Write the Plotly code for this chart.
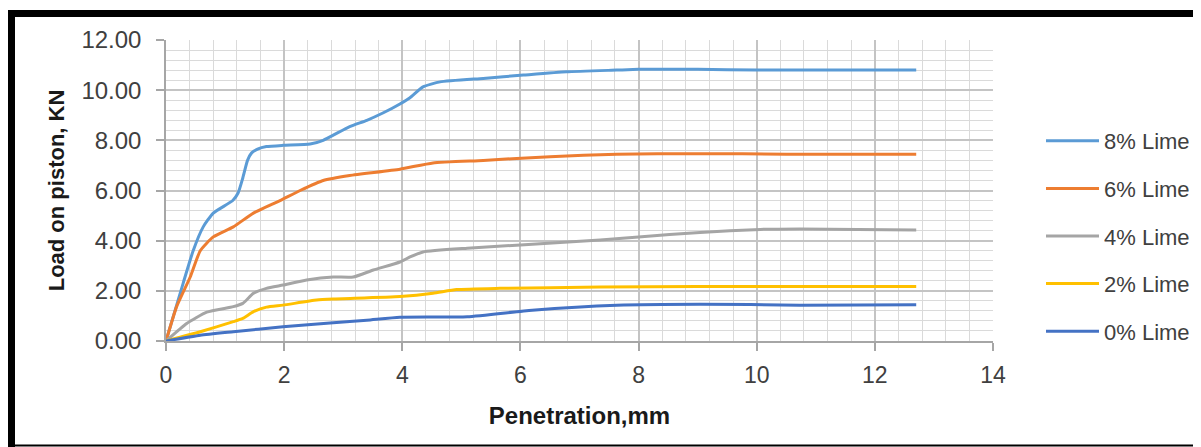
import plotly.graph_objects as go

# ---- data ----
x_8 = [0, 0.29, 0.46, 0.63, 0.8, 1.13, 1.22, 1.3, 1.38, 1.45, 1.55, 1.7, 1.98, 2.44, 2.66, 3.11, 3.4, 3.68,
       3.96, 4.13, 4.35, 4.64, 5.37, 6.05, 6.78, 7.63, 8.0, 9.0, 10.0, 11.0, 12.7]
y_8 = [0, 2.3, 3.6, 4.55, 5.1, 5.6, 5.9, 6.5, 7.2, 7.5, 7.65, 7.75, 7.8, 7.85, 8.0, 8.55, 8.8, 9.1,
       9.45, 9.7, 10.13, 10.33, 10.47, 10.6, 10.73, 10.8, 10.83, 10.83, 10.8, 10.8, 10.8]

x_6 = [0, 0.18, 0.41, 0.58, 0.8, 1.14, 1.48, 1.93, 2.27, 2.66, 3.11, 3.96, 4.52, 5.37, 6.5, 7.63, 9.0, 10.5, 12.7]
y_6 = [0, 1.37, 2.55, 3.6, 4.15, 4.55, 5.1, 5.6, 6.0, 6.4, 6.6, 6.85, 7.1, 7.2, 7.35, 7.45, 7.47, 7.45, 7.45]

x_4 = [0, 0.35, 0.69, 1.14, 1.3, 1.48, 1.7, 1.98, 2.38, 2.83, 3.17, 3.51, 3.96, 4.13, 4.35, 5.1, 6.0,
       7.35, 8.0, 9.04, 10.06, 10.73, 12.7]
y_4 = [0, 0.7, 1.15, 1.37, 1.5, 1.9, 2.1, 2.23, 2.43, 2.55, 2.55, 2.83, 3.15, 3.35, 3.55, 3.7, 3.83,
       4.03, 4.15, 4.33, 4.45, 4.47, 4.43]

x_2 = [0, 0.58, 1.14, 1.3, 1.48, 1.7, 1.98, 2.55, 2.83, 3.96, 4.52, 4.92, 5.65, 7.35, 9.0, 12.7]
y_2 = [0, 0.37, 0.77, 0.9, 1.17, 1.35, 1.43, 1.63, 1.67, 1.77, 1.9, 2.05, 2.1, 2.15, 2.17, 2.17]

x_0 = [0, 0.58, 1.14, 1.98, 2.83, 3.4, 3.96, 5.1, 6.2, 7.63, 9.04, 10.73, 12.7]
y_0 = [0, 0.23, 0.37, 0.57, 0.73, 0.83, 0.95, 0.97, 1.23, 1.43, 1.47, 1.43, 1.45]

series_names = ["8% Lime", "6% Lime", "4% Lime", "2% Lime", "0% Lime"]
series_x = [x_8, x_6, x_4, x_2, x_0]
series_y = [y_8, y_6, y_4, y_2, y_0]
series_colors = ["#5B9BD5", "#ED7D31", "#A5A5A5", "#FFC000", "#4472C4"]

x_title = "Penetration,mm"
y_title = "Load on piston, KN"

# page is 1201x447, the plot div sits 8px in from the top-left (body margin)
OFF = 8
W, H = 1201 - OFF, 447 - OFF
ML, MR, MT, MB = 166 - OFF, 208, 40 - OFF, 106
PW, PH = W - ML - MR, H - MT - MB

def px(x):  # page x -> paper
    return (x - OFF - ML) / PW

def py(y):  # page y -> paper
    return (H - MB - (y - OFF)) / PH

FONT = "Liberation Sans"

fig = go.Figure()
for n, xs, ys, c in zip(series_names, series_x, series_y, series_colors):
    fig.add_trace(go.Scatter(
        x=xs, y=ys, name=n, mode="lines", legendgroup=n,
        line=dict(color=c, width=3, shape="spline", smoothing=0.5),
    ))

axis_common = dict(
    showline=True, linecolor="#A6A6A6", linewidth=1.5,
    ticks="outside", ticklen=8, tickcolor="#A6A6A6", tickwidth=1.5,
    showgrid=True, gridcolor="#C4C4C4", gridwidth=1.5,
    zeroline=False,
    mirror=False,
)

fig.update_xaxes(
    range=[0, 14], dtick=2, tick0=0,
    minor=dict(dtick=0.4, showgrid=True, gridcolor="#DADADA", gridwidth=1.2),
    title=dict(text=f"<b>{x_title}</b>", font=dict(family=FONT, size=24, color="#1a1a1a"), standoff=20),
    tickfont=dict(family=FONT, size=23, color="#404040"),
    ticklabelstandoff=5,
    **axis_common,
)
fig.update_yaxes(
    range=[0, 12], dtick=2, tick0=0, tickformat=".2f",
    minor=dict(dtick=0.4, showgrid=True, gridcolor="#DADADA", gridwidth=1.2),
    title=dict(text=f"<b>{y_title}</b>", font=dict(family=FONT, size=22, color="#1a1a1a"), standoff=11),
    tickfont=dict(family=FONT, size=24, color="#404040"),
    ticklabelstandoff=10,
    **axis_common,
)

# Frame border around the chart image
shapes = [
    dict(type="rect", xref="paper", yref="paper", x0=px(8), x1=px(1201), y0=py(17), y1=py(10),
         fillcolor="black", line=dict(width=0), layer="above"),
    dict(type="rect", xref="paper", yref="paper", x0=px(8), x1=px(15), y0=py(447), y1=py(10),
         fillcolor="black", line=dict(width=0), layer="above"),
    dict(type="rect", xref="paper", yref="paper", x0=px(8), x1=px(1201), y0=py(446.5), y1=py(444.5),
         fillcolor="black", line=dict(width=0), layer="above"),
]

fig.update_layout(
    width=W, height=H,
    margin=dict(l=ML, r=MR, t=MT, b=MB, autoexpand=False),
    paper_bgcolor="white", plot_bgcolor="white",
    shapes=shapes,
    showlegend=True,
    legend=dict(
        x=px(1041), y=py(120), xanchor="left", yanchor="top",
        font=dict(family=FONT, size=22, color="#404040"),
        tracegroupgap=16, itemwidth=53,
        bgcolor="rgba(0,0,0,0)",
    ),
)

fig.write_html("out.html")
